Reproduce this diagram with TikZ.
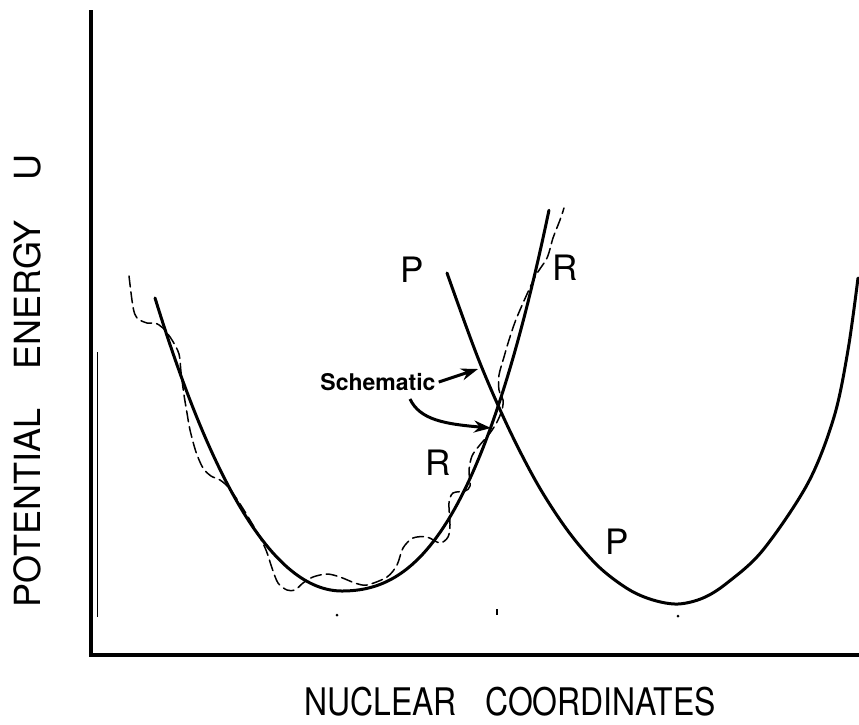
\documentclass[tikz,border=0pt]{standalone}
\usepackage{fontspec}
\setmainfont{TeX Gyre Heros}
\usepackage{graphicx}
\usetikzlibrary{arrows.meta}
\begin{document}
\begin{tikzpicture}[x=1pt,y=-1pt,
  axisline/.style={line width=3.6pt},
  curve/.style={line width=3pt, line cap=round, line join=round},
  realcurve/.style={line width=1.5pt, dash pattern=on 11pt off 5pt, line cap=round, line join=round},
  lbl/.style={inner sep=0pt, font=\fontsize{35}{40}\selectfont},
  pointer/.style={line width=3pt, -{Stealth[length=17pt,width=12pt]}},
  tickdot/.style={fill=black, inner sep=0pt, minimum size=3pt, circle}]
\useasboundingbox (0,0) rectangle (859,724);
% axes
\coordinate (ytop) at (91,10);
\coordinate (orig) at (91,655);
\coordinate (xend) at (859,655);
\draw[axisline] (ytop) -- (orig) -- (xend);
\coordinate (thinA) at (97,352);
\coordinate (thinB) at (97,617);
\draw[line width=0.9pt] (thinA) -- (thinB);
% reactant curve (schematic)
\draw[curve] plot[domain=1.87:0, samples=60] ({342-100*\x},{591-77.6*\x*\x-3.32*\x*\x*\x})
  -- plot[domain=0:2.07, samples=60] ({342+100*\x},{591-35.9*\x*\x-25.6*\x*\x*\x});
% product curve (schematic)
\draw[curve] plot[smooth, tension=0.55] coordinates {(447,273) (478,358) (508,427) (538,485) (568,531) (598,566) (628,589) (653,600) (678,604) (703,598) (727,583) (763,550) (808,483) (834,417) (848,350) (858,278)};
% real (dashed) curve
\draw[realcurve] plot[smooth, tension=0.5] coordinates {(129,276) (133,307) (137,318) (147,323) (155,323) (163,328) (172,340) (179,354) (181,372) (184,395) (187,413) (190,430) (196,452) (203,468) (211,476) (220,480) (229,488) (242,507) (257,532) (266,550) (272,568) (278,583) (287,590) (295,590) (303,583) (313,577) (327,574) (340,577) (355,583) (367,585) (387,577) (397,565) (403,548) (413,538) (427,537) (440,543) (448,537) (450,525) (449,503) (453,493) (465,491) (470,486) (469,470) (472,456) (479,446) (490,433) (497,422) (502,410) (503,400) (499,390) (499,375) (504,357) (509,340) (517,317) (535,277) (547,258) (553,238) (560,220) (564,208)};
% labels
\node[lbl] (P1) at (412,270) {P};
\node[lbl] (R1) at (565,268) {R};
\node[lbl] (R2) at (438,463) {R};
\node[lbl] (P2) at (617,542) {P};
\node[inner sep=0pt, font=\fontsize{23}{27}\selectfont\bfseries] (sch) at (378,382) {Schematic};
\coordinate (tipP) at (478,369);
\coordinate (tipR) at (491,428);
\coordinate (a2) at (410,399);
\draw[pointer] ([xshift=3pt]sch.east) -- (tipP);
\draw[pointer] (a2) .. controls (420,420) and (445,424) .. (tipR);
% ticks
\node[tickdot] (t1) at (337,615) {};
\node[fill=black, inner sep=0pt, minimum width=2.5pt, minimum height=6pt] (t2) at (497,612) {};
\node[tickdot] (t3) at (678,616) {};
% axis titles
\node[rotate=90, inner sep=0pt, font=\fontsize{36}{40}\selectfont] (ylab) at (27,381) {POTENTIAL\hspace{1.1em}ENERGY\hspace{1.1em}U};
\node[inner sep=0pt, font=\fontsize{38}{42}\selectfont] (xlab) at (510,702) {\scalebox{0.84}[1]{NUCLEAR\hspace{0.9em}COORDINATES}};
\end{tikzpicture}
\end{document}
